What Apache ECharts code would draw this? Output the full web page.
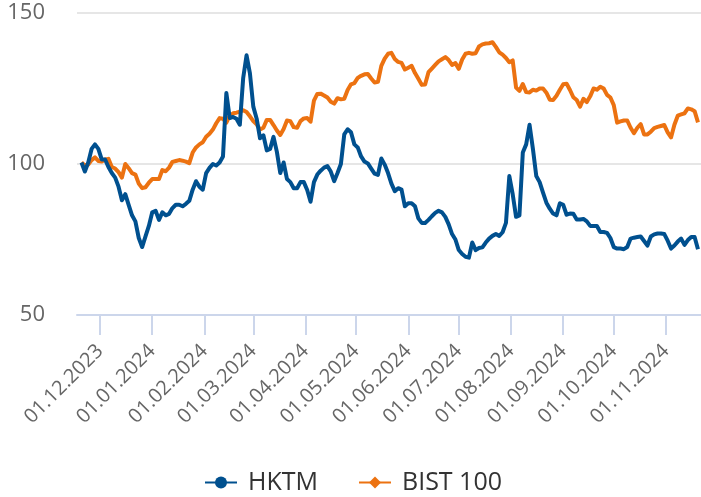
<!DOCTYPE html>
<html>
<head>
<meta charset="utf-8">
<script src="https://cdn.jsdelivr.net/npm/echarts@6/dist/echarts.min.js"></script>
<style>
  html, body { margin: 0; padding: 0; background: #fff; }
  #chart { width: 701px; height: 497px; }
</style>
</head>
<body>
<div id="chart"></div>
<script>
// sample dates: every 2 days from 20.11.2023
const firstDate = [2023, 10, 20];
const stepDays = 2;

const hktm = [
  100.5, 97.5, 100.5, 105, 106.5, 105, 101.5, 101.5, 99, 97,
  95.5, 92.5, 88, 90, 86.5, 83, 81, 75.5, 72.5, 76,
  79.5, 84, 84.5, 81.5, 84, 83, 83.5, 85.4, 86.5, 86.5,
  86, 86.8, 87.8, 91.5, 94.3, 92.5, 91.5, 97, 98.7, 100,
  99.5, 100.5, 102.5, 123.5, 115.2, 115.6, 115, 113, 128.5, 136,
  130, 119, 115, 108.5, 109.5, 104.5, 105, 109, 104, 97,
  100.5, 95, 94, 92, 92, 94, 94, 91.4, 87.5, 94,
  96.5, 97.8, 98.8, 99.3, 97.5, 94.3, 97, 100, 109.8, 111.5,
  110.5, 106.5, 105.5, 102.5, 100.8, 100.2, 98.5, 96.8, 96.4, 101.8,
  99.8, 97, 93.5, 91, 92, 91.5, 86, 87, 87, 86,
  82, 80.5, 80.5, 81.5, 82.7, 83.8, 84.5, 84, 82.5, 80,
  76.8, 75, 71.5, 70.2, 69.3, 69, 74, 71.5, 72.2, 72.4,
  74, 75.3, 76.2, 76.8, 76.2, 77.4, 80.5, 96, 90, 82.5,
  83, 103.8, 106.5, 113, 105, 96, 94, 90.5, 87.2, 85.2,
  83.6, 83, 87, 86.5, 83.2, 83.6, 83.5, 81.6, 81.6, 81.8,
  81, 79.5, 79.5, 79.5, 77.5, 77.5, 77.2, 75.5, 72.5, 72,
  72, 71.8, 72.5, 75.3, 75.6, 75.8, 76, 74.5, 73, 76,
  76.7, 77, 77, 76.8, 74.6, 72, 73, 74.3, 75.3, 73.2,
  74.8, 75.8, 75.8, 71.8
];

const bist100 = [
  100.5, 99.5, 99.8, 101.3, 102.2, 101, 100.8, 101.5, 101.7, 99,
  98.5, 97.3, 95.5, 100, 98.6, 97, 96.5, 93.5, 92, 92.3,
  93.8, 95, 95, 95, 98, 97.6, 98.8, 100.7, 101, 101.3,
  101.1, 100.8, 100.3, 103.8, 105.5, 106.5, 107.2, 109, 110, 111.4,
  113.5, 115.2, 115, 113.7, 116, 116.8, 117, 117.3, 117.8, 117.2,
  115.8, 114.2, 113.1, 111.4, 112, 114.6, 114.6, 112.9, 111.1, 109.6,
  111.6, 114.4, 114.2, 112.2, 112, 114.2, 115.1, 115.2, 114, 121,
  123.2, 123.3, 122.7, 122, 120.6, 120, 121.8, 121.4, 121.6, 124.5,
  126.4, 126.8, 128.5, 129.2, 129.7, 129.8, 128.3, 127, 127.2, 132.5,
  134.9, 136.5, 136.8, 134.8, 133.8, 133.5, 131.3, 131.9, 132.5, 130.1,
  128.2, 126.2, 126.3, 130.4, 131.6, 132.8, 134, 134.7, 135.4, 134.4,
  132.8, 133.4, 131.5, 134.6, 136.5, 136.8, 136.5, 136.7, 138.9, 139.6,
  139.9, 140, 140.3, 138.8, 137, 136.2, 135.1, 133.7, 134.3, 125.3,
  124.2, 126.5, 123.8, 123.7, 124.6, 124.3, 125, 125, 123.6, 121.3,
  121.2, 122.6, 124.6, 126.4, 126.6, 124.5, 122.1, 121.2, 119, 121.6,
  120.5, 122.4, 125, 124.6, 125.6, 125, 122.9, 122, 119.5, 113.7,
  114.1, 114.4, 114.4, 112, 110.2, 112, 113.2, 109.8, 109.8, 110.7,
  111.9, 112.3, 112.6, 112.9, 110.5, 108.8, 113, 116, 116.4, 116.8,
  118.4, 118.1, 117.5, 113.8
];

const tickDates = [
  '2023-12-01', '2024-01-01', '2024-02-01', '2024-03-01', '2024-04-01', '2024-05-01',
  '2024-06-01', '2024-07-01', '2024-08-01', '2024-09-01', '2024-10-01', '2024-11-01'
];
const yTicks = [50, 100, 150];

function toTime(s) {
  const p = s.split('-').map(Number);
  return new Date(p[0], p[1] - 1, p[2]).getTime();
}

function pad(n) {
  return n < 10 ? '0' + n : '' + n;
}

function sampleTime(i) {
  return new Date(firstDate[0], firstDate[1], firstDate[2] + i * stepDays).getTime();
}

const tickValues = tickDates.map(toTime);
const hktmData = hktm.map((v, i) => [sampleTime(i), v]);
const bistData = bist100.map((v, i) => [sampleTime(i), v]);

const chart = echarts.init(document.getElementById('chart'));

chart.setOption({
  animation: false,
  textStyle: { fontFamily: 'Open Sans' },
  grid: { left: 77, right: 0, top: 13, bottom: 182 },
  legend: {
    top: 470,
    left: 204,
    padding: 0,
    itemWidth: 32,
    itemHeight: 15,
    itemGap: 40,
    textStyle: { fontSize: 25, color: '#333', fontFamily: 'Open Sans', padding: [0, 0, 0, 6] },
    data: ['HKTM', 'BIST 100']
  },
  xAxis: {
    // timestamps on a value axis so the month ticks can be placed exactly
    type: 'value',
    min: new Date(2023, 10, 17, 8).getTime(),
    max: new Date(2024, 10, 21, 19).getTime(),
    axisLine: { lineStyle: { color: '#ccd6eb', width: 2 } },
    axisTick: {
      show: true,
      length: 20,
      customValues: tickValues,
      lineStyle: { color: '#ccd6eb', width: 2 }
    },
    splitLine: { show: false },
    axisLabel: {
      customValues: tickValues,
      rotate: 45,
      margin: 33,
      fontSize: 20,
      color: '#666',
      formatter: function (val) {
        const d = new Date(val);
        return pad(d.getDate()) + '.' + pad(d.getMonth() + 1) + '.' + d.getFullYear();
      }
    }
  },
  yAxis: {
    type: 'value',
    min: yTicks[0],
    max: yTicks[yTicks.length - 1],
    interval: 50,
    axisLine: { show: false },
    axisTick: { show: false },
    axisLabel: { fontSize: 22, color: '#666', margin: 32 },
    splitLine: { lineStyle: { color: '#e6e6e6', width: 2 } }
  },
  series: [
    {
      name: 'HKTM',
      type: 'line',
      data: hktmData,
      symbol: 'circle',
      symbolSize: 14,
      showSymbol: false,
      color: '#00508f',
      lineStyle: { width: 4, join: 'round' },
      z: 3
    },
    {
      name: 'BIST 100',
      type: 'line',
      data: bistData,
      symbol: 'diamond',
      symbolSize: 14,
      showSymbol: false,
      color: '#ec7211',
      lineStyle: { width: 4, join: 'round' },
      z: 2
    }
  ]
});
</script>
</body>
</html>
